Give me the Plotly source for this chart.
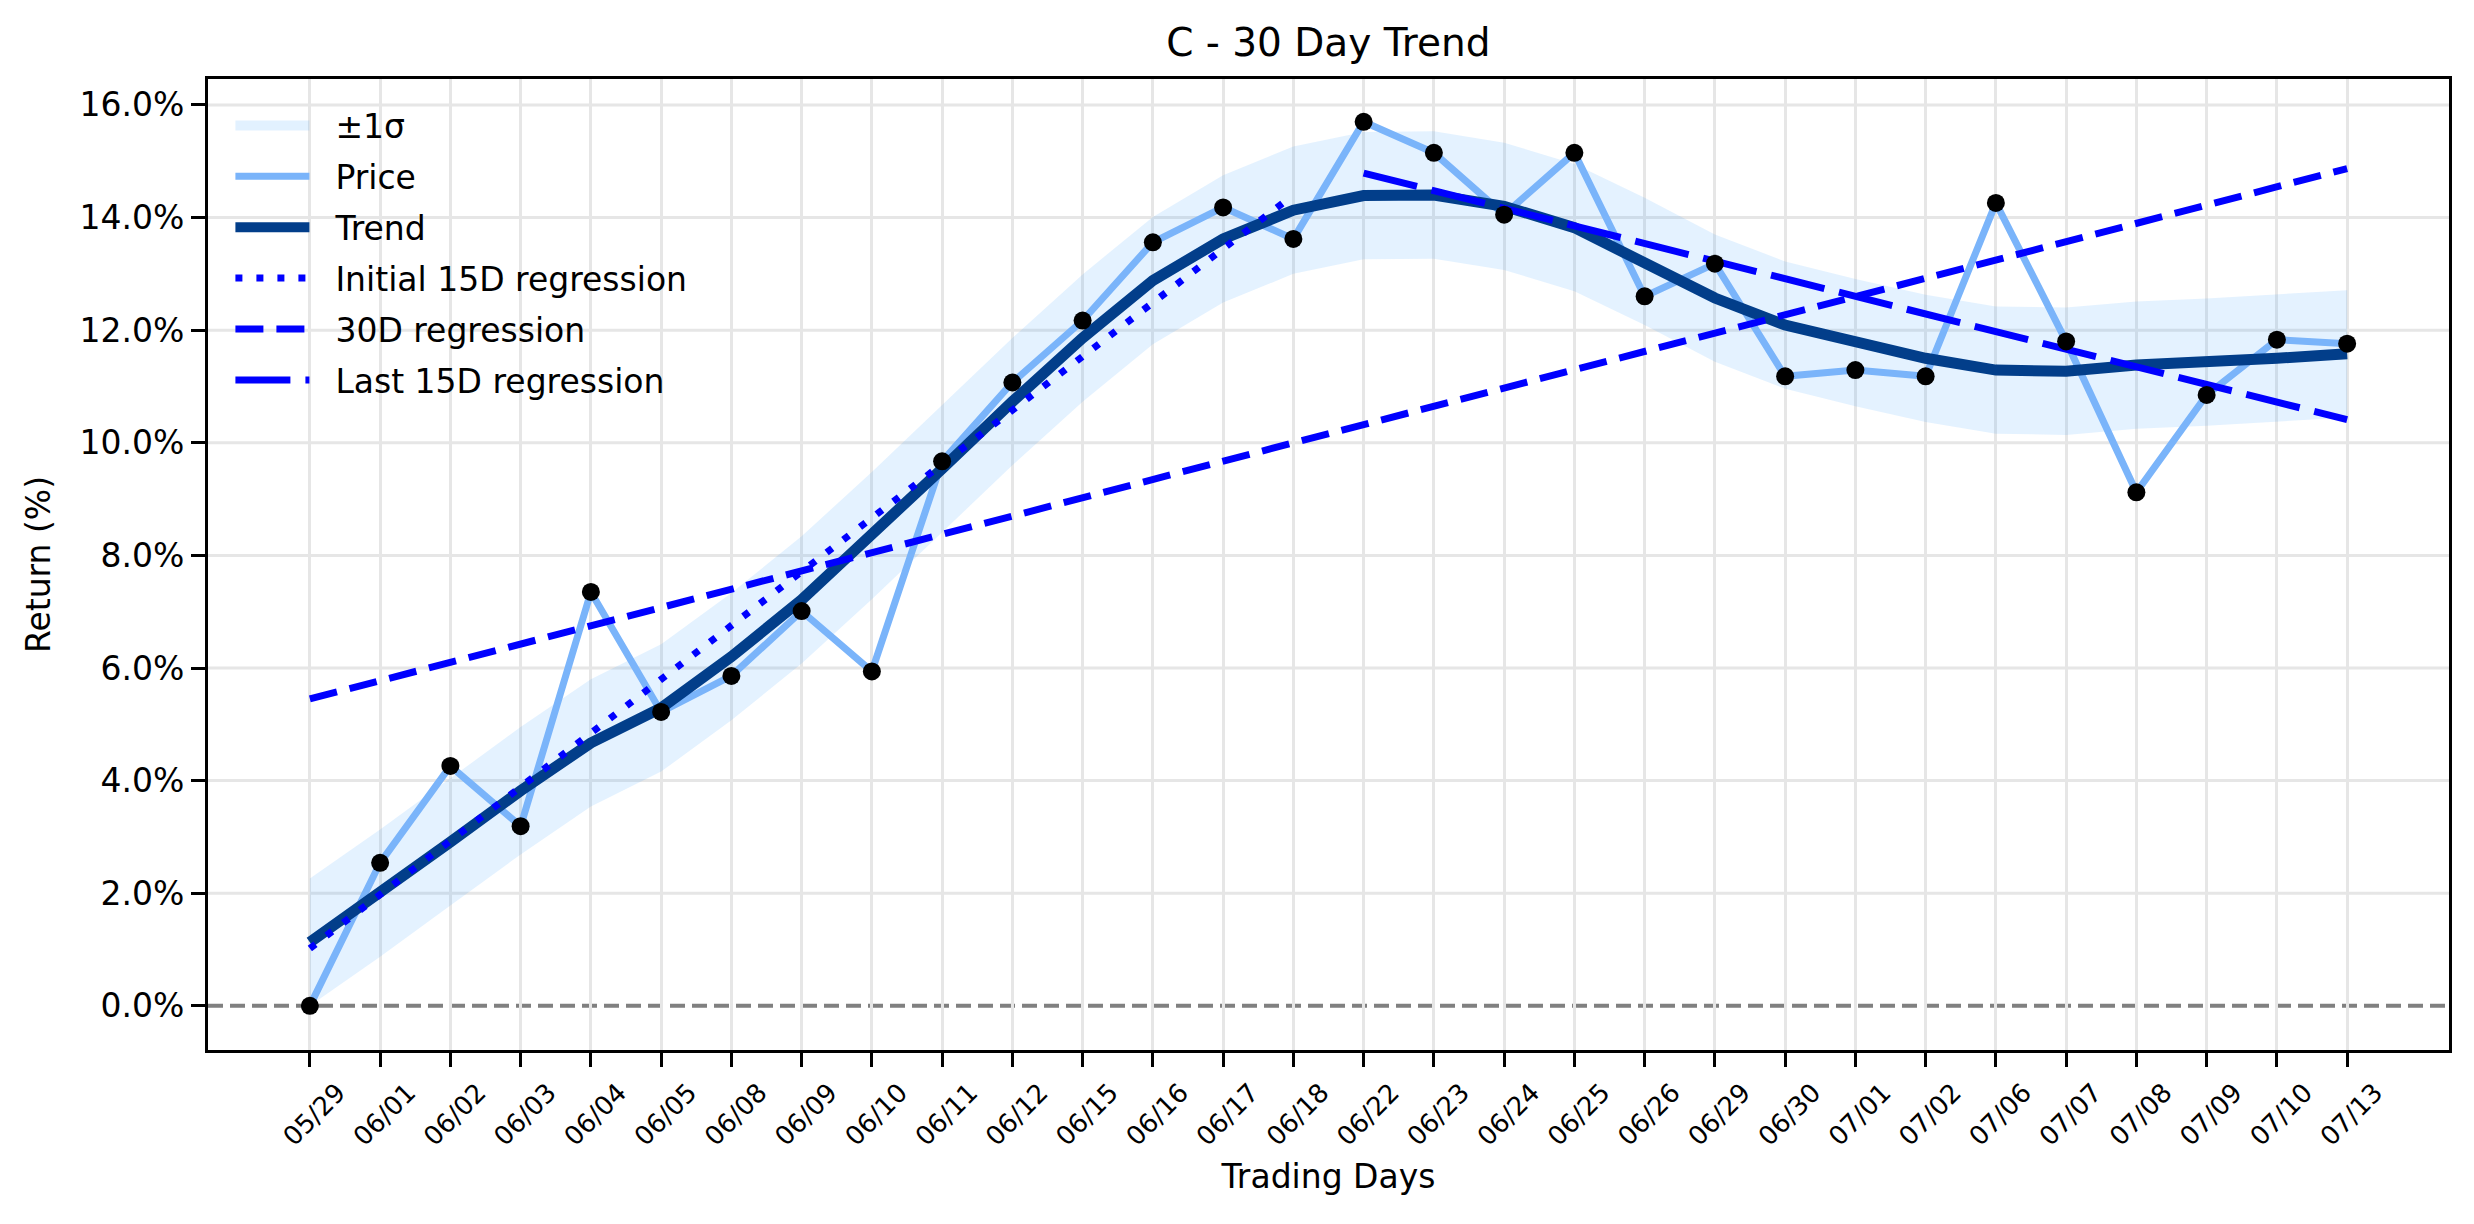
import plotly.graph_objects as go

# ---------------- data ----------------
dates = ["05/29", "06/01", "06/02", "06/03", "06/04", "06/05", "06/08", "06/09",
         "06/10", "06/11", "06/12", "06/15", "06/16", "06/17", "06/18", "06/22",
         "06/23", "06/24", "06/25", "06/26", "06/29", "06/30", "07/01", "07/02",
         "07/06", "07/07", "07/08", "07/09", "07/10", "07/13"]

price = [0.00, 2.54, 4.26, 3.19, 7.35, 5.22, 5.86, 7.01, 5.94, 9.67,
         11.07, 12.17, 13.56, 14.18, 13.62, 15.70, 15.15, 14.05, 15.15, 12.60,
         13.18, 11.18, 11.29, 11.18, 14.26, 11.80, 9.12, 10.85, 11.83, 11.76]

trend = [1.13, 2.00, 2.91, 3.82, 4.67, 5.29, 6.20, 7.21, 8.35, 9.54,
         10.73, 11.86, 12.88, 13.62, 14.13, 14.39, 14.40, 14.20, 13.82, 13.22,
         12.57, 12.09, 11.78, 11.50, 11.29, 11.27, 11.38, 11.43, 11.50, 11.58]

band_upper = [2.26, 3.13, 4.04, 4.95, 5.80, 6.42, 7.33, 8.34, 9.48, 10.67,
              11.86, 12.99, 14.01, 14.75, 15.26, 15.52, 15.53, 15.33, 14.95, 14.35,
              13.70, 13.22, 12.91, 12.63, 12.42, 12.40, 12.51, 12.56, 12.63, 12.71]

band_lower = [0.00, 0.87, 1.78, 2.69, 3.54, 4.16, 5.07, 6.08, 7.22, 8.41,
              9.60, 10.73, 11.75, 12.49, 13.00, 13.26, 13.27, 13.07, 12.69, 12.09,
              11.44, 10.96, 10.65, 10.37, 10.16, 10.14, 10.25, 10.30, 10.37, 10.45]

reg_initial_dates = ["05/29", "06/18"]
reg_initial_vals = [1.02, 14.40]

reg_30d_dates = ["05/29", "07/13"]
reg_30d_vals = [5.45, 14.87]

reg_last_dates = ["06/22", "07/13"]
reg_last_vals = [14.79, 10.41]

baseline = 0.0
y_ticks = [0, 2, 4, 6, 8, 10, 12, 14, 16]
y_tick_text = [f"{v:.1f}%" for v in y_ticks]
y_grid = [v for v in y_ticks if v != baseline]   # the baseline gets a dashed line instead
y_range = [-0.784, 16.46]

# ---------------- figure ----------------
FONT = "DejaVu Sans"
GRID = "#e6e6e6"
BAND = "rgba(30,144,255,0.12)"
PAD = "\u00a0\u00a0"   # gap between legend handle and label
fig = go.Figure()

fig.add_trace(go.Scatter(x=dates, y=band_lower, mode="lines", line=dict(width=0),
                         showlegend=False, hoverinfo="skip"))
fig.add_trace(go.Scatter(x=dates, y=band_upper, mode="lines", line=dict(width=0),
                         fill="tonexty", fillcolor=BAND,
                         name="±1σ", legendgroup="g1", showlegend=False))
# legend entry for the band (thick patch-like handle)
fig.add_trace(go.Scatter(x=[None], y=[None], mode="lines",
                         line=dict(color="rgba(30,144,255,0.13)", width=10),
                         name=PAD + "±1σ", legendgroup="g1", showlegend=True))
fig.add_trace(go.Scatter(x=dates, y=price, mode="lines",
                         line=dict(color="#7ab4fa", width=7),
                         name=PAD + "Price", legendgroup="g2"))
fig.add_trace(go.Scatter(x=dates, y=trend, mode="lines",
                         line=dict(color="#023e8a", width=11),
                         name=PAD + "Trend", legendgroup="g3"))
fig.add_trace(go.Scatter(x=reg_initial_dates, y=reg_initial_vals, mode="lines",
                         line=dict(color="#0000ff", width=7, dash="7px,14px"),
                         name=PAD + "Initial 15D regression", legendgroup="g4"))
fig.add_trace(go.Scatter(x=reg_30d_dates, y=reg_30d_vals, mode="lines",
                         line=dict(color="#0000ff", width=7, dash="28px,13px"),
                         name=PAD + "30D regression", legendgroup="g5"))
fig.add_trace(go.Scatter(x=reg_last_dates, y=reg_last_vals, mode="lines",
                         line=dict(color="#0000ff", width=7, dash="55px,15px"),
                         name=PAD + "Last 15D regression", legendgroup="g6"))
fig.add_trace(go.Scatter(x=dates, y=price, mode="markers",
                         marker=dict(color="black", size=18),
                         showlegend=False))

# horizontal grid (drawn as shapes so the dashed baseline is not hidden under a grid line)
for v in y_grid:
    fig.add_shape(type="line", xref="paper", x0=0, x1=1, yref="y", y0=v, y1=v,
                  layer="below", line=dict(color=GRID, width=3))
fig.add_shape(type="line", xref="paper", x0=0, x1=1, yref="y",
              y0=baseline, y1=baseline, layer="below",
              line=dict(color="#808080", width=4, dash="15px,7px"))

fig.update_layout(
    width=2474, height=1224,
    margin=dict(l=208, r=25, t=79, b=174, autoexpand=False),
    paper_bgcolor="white", plot_bgcolor="white",
    font=dict(family=FONT, color="black", size=33),
    title=dict(text="C - 30 Day Trend", x=0.5369, xanchor="center",
               y=0.965, yanchor="middle", yref="container",
               font=dict(size=39, color="black", family=FONT)),
    showlegend=True,
    legend=dict(x=0.010, y=0.981, xanchor="left", yanchor="top",
                bgcolor="rgba(0,0,0,0)", borderwidth=0,
                font=dict(size=33, color="black", family=FONT),
                itemwidth=74, tracegroupgap=5, traceorder="grouped"),
)

fig.update_xaxes(
    type="category", range=[-1.45, 30.45],
    showgrid=True, gridcolor=GRID, gridwidth=3,
    showline=True, linecolor="black", linewidth=3, mirror=True,
    ticks="outside", ticklen=14, tickwidth=3, tickcolor="black",
    tickangle=-45, tickfont=dict(size=26, color="black", family=FONT),
    ticklabelshift=28,
    title=dict(text="Trading Days", font=dict(size=33, color="black", family=FONT),
               standoff=15),
    automargin=False, zeroline=False,
)
fig.update_yaxes(
    range=y_range, tickmode="array", tickvals=y_ticks, ticktext=y_tick_text,
    showgrid=False,
    showline=True, linecolor="black", linewidth=3, mirror=True,
    ticks="outside", ticklen=14, tickwidth=3, tickcolor="black",
    tickfont=dict(size=33, color="black", family=FONT),
    ticklabelstandoff=0,
    title=dict(text="Return (%)", font=dict(size=33, color="black", family=FONT),
               standoff=20),
    automargin=False, zeroline=False,
)

fig.write_html("out.html")
